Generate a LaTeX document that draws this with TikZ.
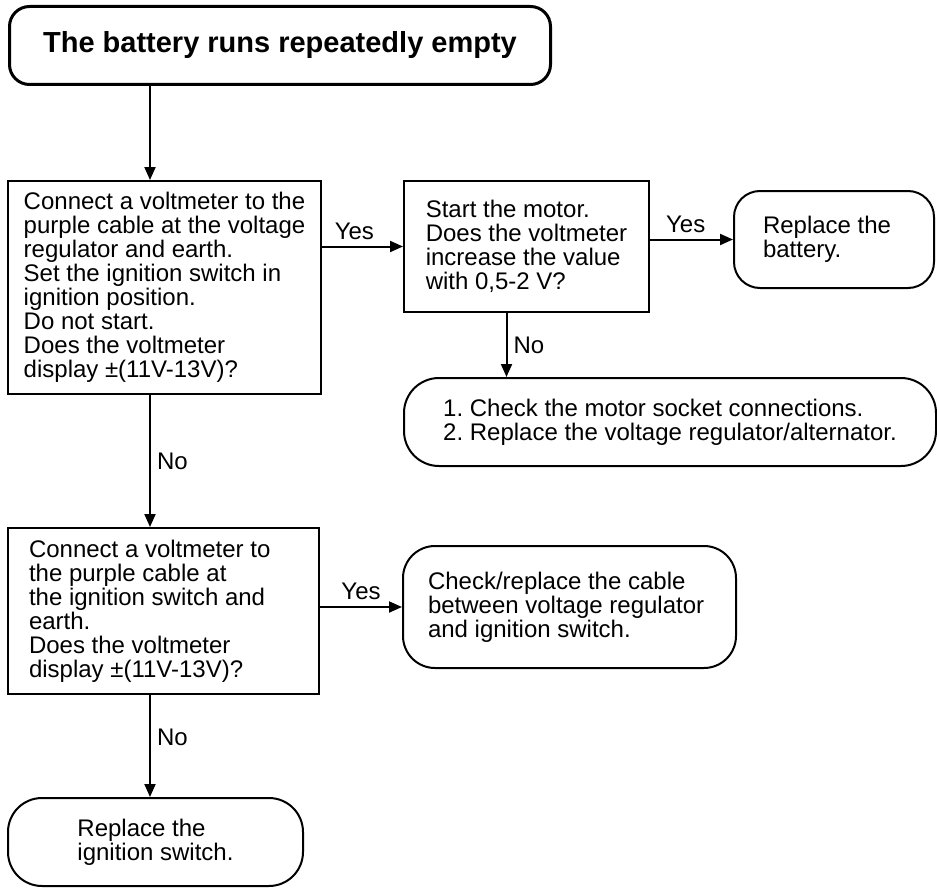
\documentclass[tikz,border=0pt]{standalone}
\usepackage{fontspec}
\setmainfont{Liberation Sans}
\frenchspacing
\usepackage{tikz}
\usetikzlibrary{arrows.meta, positioning, calc}

\begin{document}
\begin{tikzpicture}[x=1pt, y=-1pt,
    basefont/.style={font=\fontsize{24}{24}\selectfont},
    stepbox/.style={basefont, draw, line width=2pt, anchor=north west, align=flush left, inner sep=0pt},
    flowarrow/.style={line width=2pt, -{Triangle[length=13pt, width=11pt]}},
    answer/.style={basefont, inner sep=6pt}
  ]
    \useasboundingbox (0,0) rectangle (937,888);

    % Title
    \node[stepbox, rounded corners=20pt, line width=3pt, font=\fontsize{29}{30}\selectfont\bfseries,
          minimum width=541pt, minimum height=78pt] (title) at (8,5) {The battery runs repeatedly empty};

    % Check at the voltage regulator
    \node[stepbox, minimum width=313pt, minimum height=213pt] (regcheck) at (7,180) {Connect a voltmeter to the\\ purple cable at the voltage\\ regulator and earth.\\ Set the ignition switch in\\ ignition position.\\ Do not start.\\ Does the voltmeter\\ display ±(11V-13V)?};

    % Motor check
    \node[stepbox, minimum width=245pt, minimum height=131pt] (motorcheck) at (403,180) {Start the motor.\\ Does the voltmeter\\ increase the value\\ with 0,5-2 V?};

    % Battery
    \node[stepbox, rounded corners=26pt, minimum width=200pt, minimum height=97pt, text width=142pt] (battery) at (733,190) {Replace the\\ battery.};

    % Regulator
    \node[stepbox, rounded corners=35pt, minimum width=532pt, minimum height=88pt] (regulator) at (403,377) {1. Check the motor socket connections.\\ 2. Replace the voltage regulator/alternator.};

    % Check at the ignition switch
    \node[stepbox, minimum width=311pt, minimum height=166pt, text width=269pt] (switchcheck) at (7,527) {Connect a voltmeter to\\ the purple cable at\\ the ignition switch and\\ earth.\\ Does the voltmeter\\ display ±(11V-13V)?};

    % Cable
    \node[stepbox, rounded corners=32pt, minimum width=333pt, minimum height=122pt, text width=283pt] (cable) at (402,545) {Check/replace the cable\\ between voltage regulator\\ and ignition switch.};

    % Switch
    \node[stepbox, rounded corners=34pt, minimum width=295pt, minimum height=88pt] (switch) at (7,797) {Replace the\\ ignition switch.};

    \coordinate (spine) at (150,0);

    \draw[flowarrow] (title.south -| spine) -- (regcheck.north -| spine);
    \draw[flowarrow] (regcheck.east |- motorcheck.west) -- node[answer, above, pos=0.4] {Yes} (motorcheck.west);
    \draw[flowarrow] (motorcheck.east |- battery.west) -- node[answer, above, pos=0.43] {Yes} (battery.west);
    \draw[flowarrow] ([xshift=-20pt]motorcheck.south) -- node[answer, right] {No} ([xshift=-20pt]motorcheck.south |- regulator.north);
    \draw[flowarrow] (regcheck.south -| spine) -- node[answer, right] {No} (switchcheck.north -| spine);
    \draw[flowarrow] (switchcheck.east |- cable.west) -- node[answer, above] {Yes} (cable.west);
    \draw[flowarrow] (switchcheck.south -| spine) -- node[answer, right, pos=0.42] {No} (switch.north -| spine);
\end{tikzpicture}
\end{document}
